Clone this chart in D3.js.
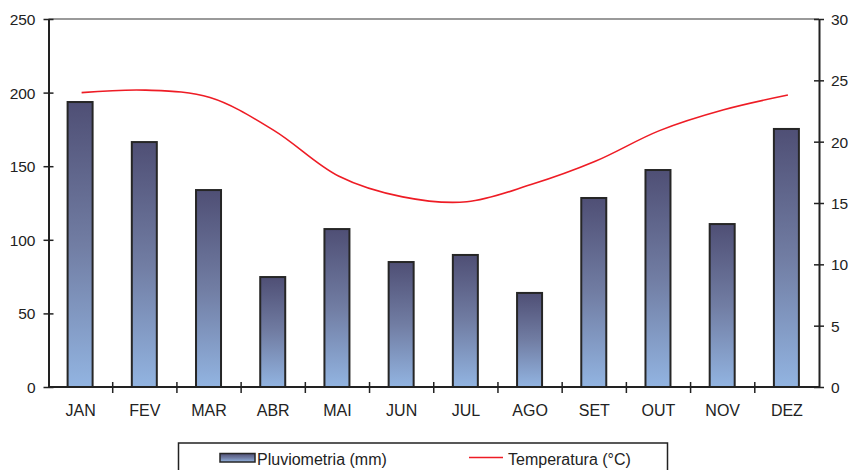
<!DOCTYPE html>
<html>
<head>
<meta charset="utf-8">
<script src="https://cdn.jsdelivr.net/npm/d3@7/dist/d3.min.js"></script>
<style>
  html, body { margin: 0; padding: 0; background: #fff; }
  svg { display: block; font-family: "Liberation Sans", Arial, sans-serif; }
</style>
</head>
<body>
<svg id="chart" width="851" height="470"></svg>
<script>
// Monthly climate normals
const months = ["JAN", "FEV", "MAR", "ABR", "MAI", "JUN", "JUL", "AGO", "SET", "OUT", "NOV", "DEZ"];
const rainfall = [193.6, 166.4, 133.8, 74.7, 107.3, 84.9, 89.7, 63.9, 128.4, 147.4, 110.7, 175.3];
const temperature = [24.0, 24.2, 23.6, 20.9, 17.2, 15.5, 15.1, 16.5, 18.4, 20.9, 22.6, 23.8];
const rainTicks = [0, 50, 100, 150, 200, 250];
const tempTicks = [0, 5, 10, 15, 20, 25, 30];
const legendLabels = ["Pluviometria (mm)", "Temperatura (°C)"];

const svg = d3.select("#chart");
const plotLeft = 48.5, plotRight = 819, plotTop = 19, plotBottom = 387;

const x = d3.scaleBand().domain(months).range([plotLeft, plotRight]).paddingInner(0).paddingOuter(0);
const yRain = d3.scaleLinear().domain([0, 250]).range([plotBottom, plotTop]);
const yTemp = d3.scaleLinear().domain([0, 30]).range([plotBottom, plotTop]);

// Bar fill: dark slate at the top fading to light blue at the base
const defs = svg.append("defs");
const grad = defs.append("linearGradient")
  .attr("id", "barFill").attr("x1", 0).attr("y1", 0).attr("x2", 0).attr("y2", 1);
grad.append("stop").attr("offset", "0%").attr("stop-color", "#4f4f75");
grad.append("stop").attr("offset", "50%").attr("stop-color", "#717da3");
grad.append("stop").attr("offset", "100%").attr("stop-color", "#92b4e1");

// Top frame line
svg.append("line")
  .attr("x1", plotLeft).attr("x2", plotRight).attr("y1", plotTop).attr("y2", plotTop)
  .attr("stroke", "#9a9a9a").attr("stroke-width", 2);

// Bars
const barW = 25;
svg.append("g").selectAll("rect")
  .data(months)
  .join("rect")
  .attr("x", (d) => x(d) + x.bandwidth() / 2 - barW / 2 - 0.5)
  .attr("y", (d, i) => yRain(rainfall[i]))
  .attr("width", barW)
  .attr("height", (d, i) => plotBottom - yRain(rainfall[i]))
  .attr("fill", "url(#barFill)")
  .attr("stroke", "#262626")
  .attr("stroke-width", 2);

// Temperature line
const line = d3.line()
  .x((d, i) => x(months[i]) + x.bandwidth() / 2 + 1)
  .y((d) => yTemp(d))
  .curve(d3.curveCatmullRom.alpha(0.5));
svg.append("path")
  .datum(temperature)
  .attr("d", line)
  .attr("fill", "none")
  .attr("stroke", "#ee1c25")
  .attr("stroke-width", 1.6);

// Axes
const axisColor = "#222";
function styleAxis(g, size) {
  g.selectAll(".domain").attr("stroke", axisColor).attr("stroke-width", 2);
  g.selectAll(".tick line").attr("stroke", axisColor).attr("stroke-width", 1.5);
  g.selectAll(".tick text").attr("fill", "#222").style("font-size", size + "px")
    .style("font-family", "'Liberation Sans', Arial, sans-serif");
}

const gLeft = svg.append("g").attr("transform", `translate(${plotLeft},0)`)
  .call(d3.axisLeft(yRain).tickValues(rainTicks).tickSize(0).tickPadding(13));
gLeft.selectAll(".tick").append("line").attr("x1", -5).attr("x2", 5);
styleAxis(gLeft, 15.5);
gLeft.selectAll(".tick text").attr("dy", "0.36em");

const gRight = svg.append("g").attr("transform", `translate(${plotRight},0)`)
  .call(d3.axisRight(yTemp).tickValues(tempTicks).tickSize(0).tickPadding(12));
gRight.selectAll(".tick").append("line").attr("x1", -5).attr("x2", 5);
styleAxis(gRight, 15.5);
gRight.selectAll(".tick text").attr("dy", "0.36em");

// Category axis with ticks between months
const gBottom = svg.append("g").attr("transform", `translate(0,${plotBottom})`)
  .call(d3.axisBottom(x).tickSize(0).tickPadding(18));
gBottom.select(".domain").attr("d", `M${plotLeft},0H${plotRight}`);
const bounds = months.slice(1).map((m) => x(m));
gBottom.selectAll(".sep").data(bounds).join("line").attr("class", "sep")
  .attr("x1", (d) => d).attr("x2", (d) => d).attr("y1", -5).attr("y2", 6);
gBottom.selectAll(".sep").attr("stroke", axisColor).attr("stroke-width", 1.5);
styleAxis(gBottom, 16);
gBottom.selectAll(".tick text").attr("dy", "0.71em");

// Legend
const lg = svg.append("g");
lg.append("rect").attr("x", 178.5).attr("y", 443).attr("width", 489).attr("height", 40)
  .attr("fill", "#fff").attr("stroke", "#222").attr("stroke-width", 1.5);
lg.append("rect").attr("x", 220).attr("y", 453.5).attr("width", 35).attr("height", 8.5)
  .attr("fill", "url(#barFill)").attr("stroke", "#262626").attr("stroke-width", 1.5);
lg.append("text").attr("x", 257).attr("y", 464.5).attr("font-size", 16).attr("fill", "#222")
  .text(legendLabels[0]);
lg.append("line").attr("x1", 469).attr("x2", 503).attr("y1", 457.5).attr("y2", 457.5)
  .attr("stroke", "#ee1c25").attr("stroke-width", 1.6);
lg.append("text").attr("x", 508).attr("y", 464.5).attr("font-size", 16).attr("fill", "#222")
  .text(legendLabels[1]);
</script>
</body>
</html>
